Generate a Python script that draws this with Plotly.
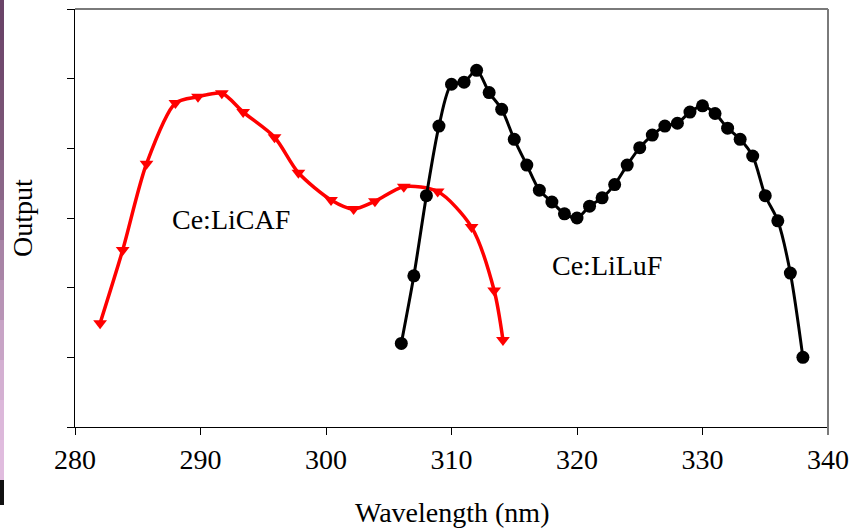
import plotly.graph_objects as go

# Ce:LiCAF (red, triangles)
licaf_wl = [282.0, 283.8, 285.7, 288.0, 289.8, 291.7, 293.4, 295.9, 297.8, 300.4,
            302.2, 303.9, 306.2, 308.9, 311.6, 313.4, 314.1]
licaf_out = [1.49, 2.54, 3.78, 4.65, 4.74, 4.79, 4.52, 4.16, 3.65, 3.26,
             3.13, 3.24, 3.45, 3.38, 2.87, 1.96, 1.25]

# Ce:LiLuF (black, circles)
liluf_wl = list(range(306, 339))
liluf_out = [1.20, 2.17, 3.32, 4.32, 4.92, 4.95, 5.12, 4.80, 4.56, 4.13,
             3.76, 3.40, 3.23, 3.06, 3.00, 3.17, 3.29, 3.48, 3.76, 4.01,
             4.19, 4.32, 4.36, 4.52, 4.61, 4.50, 4.29, 4.13, 3.89, 3.32,
             2.96, 2.21, 1.00]

x_ticks = [280, 290, 300, 310, 320, 330, 340]
y_ticks = [0, 1, 2, 3, 4, 5, 6]

FONT = "Liberation Serif, Times New Roman, DejaVu Serif, serif"
FS = 28

fig = go.Figure()
fig.add_trace(go.Scatter(
    x=licaf_wl, y=licaf_out, mode="lines+markers",
    line=dict(color="#ff0000", width=3.5, shape="spline", smoothing=0.8),
    marker=dict(symbol="triangle-down", size=12, color="#ff0000"),
    showlegend=False))
fig.add_trace(go.Scatter(
    x=liluf_wl, y=liluf_out, mode="lines+markers",
    line=dict(color="#000000", width=3, shape="spline", smoothing=0.8),
    marker=dict(symbol="circle", size=13, color="#000000"),
    showlegend=False))

W, H = 864, 531
L, R, T, B = 75, 36, 9, 104
pw, ph = W - L - R, H - T - B

def px(xp):
    return (xp - L) / pw

def py(yp):
    return (H - B - yp) / ph

shapes = []
# gray top and right frame
shapes.append(dict(type="line", xref="paper", yref="paper", x0=0, x1=1, y0=1, y1=1,
                   line=dict(color="#7a7a7a", width=2)))
shapes.append(dict(type="line", xref="paper", yref="paper", x0=1, x1=1, y0=1, y1=py(435),
                   line=dict(color="#7a7a7a", width=2)))
# decorative left strip (slide background remnant)
strip_cols = ["#6a4468", "#70496e", "#785274", "#805a7c", "#8a6688", "#987496",
              "#a884a6", "#b894b6", "#c8a4c6", "#d4b0d2", "#dcb8da", "#e0bcde"]
n = len(strip_cols)
for i, c in enumerate(strip_cols):
    y0p = i * 480 / n
    y1p = (i + 1) * 480 / n
    shapes.append(dict(type="rect", xref="paper", yref="paper",
                       x0=px(0), x1=px(4), y0=py(y1p), y1=py(y0p),
                       fillcolor=c, line=dict(width=0), layer="above"))
shapes.append(dict(type="rect", xref="paper", yref="paper",
                   x0=px(0), x1=px(4), y0=py(505), y1=py(480),
                   fillcolor="#111111", line=dict(width=0), layer="above"))

fig.update_layout(
    width=W, height=H,
    margin=dict(l=L, r=R, t=T, b=B),
    paper_bgcolor="white", plot_bgcolor="white",
    font=dict(family=FONT, size=FS, color="black"),
    shapes=shapes,
    xaxis=dict(range=[280, 340], tickvals=x_ticks, ticktext=[str(v) for v in x_ticks],
               showgrid=False, zeroline=False, showline=True, linecolor="black", linewidth=1,
               ticks="outside", ticklen=7, tickcolor="black", tickwidth=1,
               tickfont=dict(family=FONT, size=FS)),
    yaxis=dict(range=[0, 6], tickvals=y_ticks, showticklabels=False,
               showgrid=False, zeroline=False, showline=True, linecolor="black", linewidth=1,
               ticks="outside", ticklen=7, tickcolor="black", tickwidth=1),
    annotations=[
        dict(text="Ce:LiCAF", x=292.4, y=2.98, xref="x", yref="y", showarrow=False,
             xanchor="center", yanchor="middle", font=dict(family=FONT, size=FS)),
        dict(text="Ce:LiLuF", x=322.4, y=2.32, xref="x", yref="y", showarrow=False,
             xanchor="center", yanchor="middle", font=dict(family=FONT, size=FS)),
        dict(text="Output", x=px(22), y=0.5, xref="paper", yref="paper", showarrow=False,
             xanchor="center", yanchor="middle",
             textangle=-90, font=dict(family=FONT, size=FS)),
        dict(text="Wavelength (nm)", x=0.5, y=py(512), xref="paper", yref="paper",
             xanchor="center", yanchor="middle",
             showarrow=False, font=dict(family=FONT, size=FS)),
    ],
)

fig.write_html("out.html", config={"displayModeBar": False},
               post_script="document.body.style.margin='0';document.body.style.padding='0';")
